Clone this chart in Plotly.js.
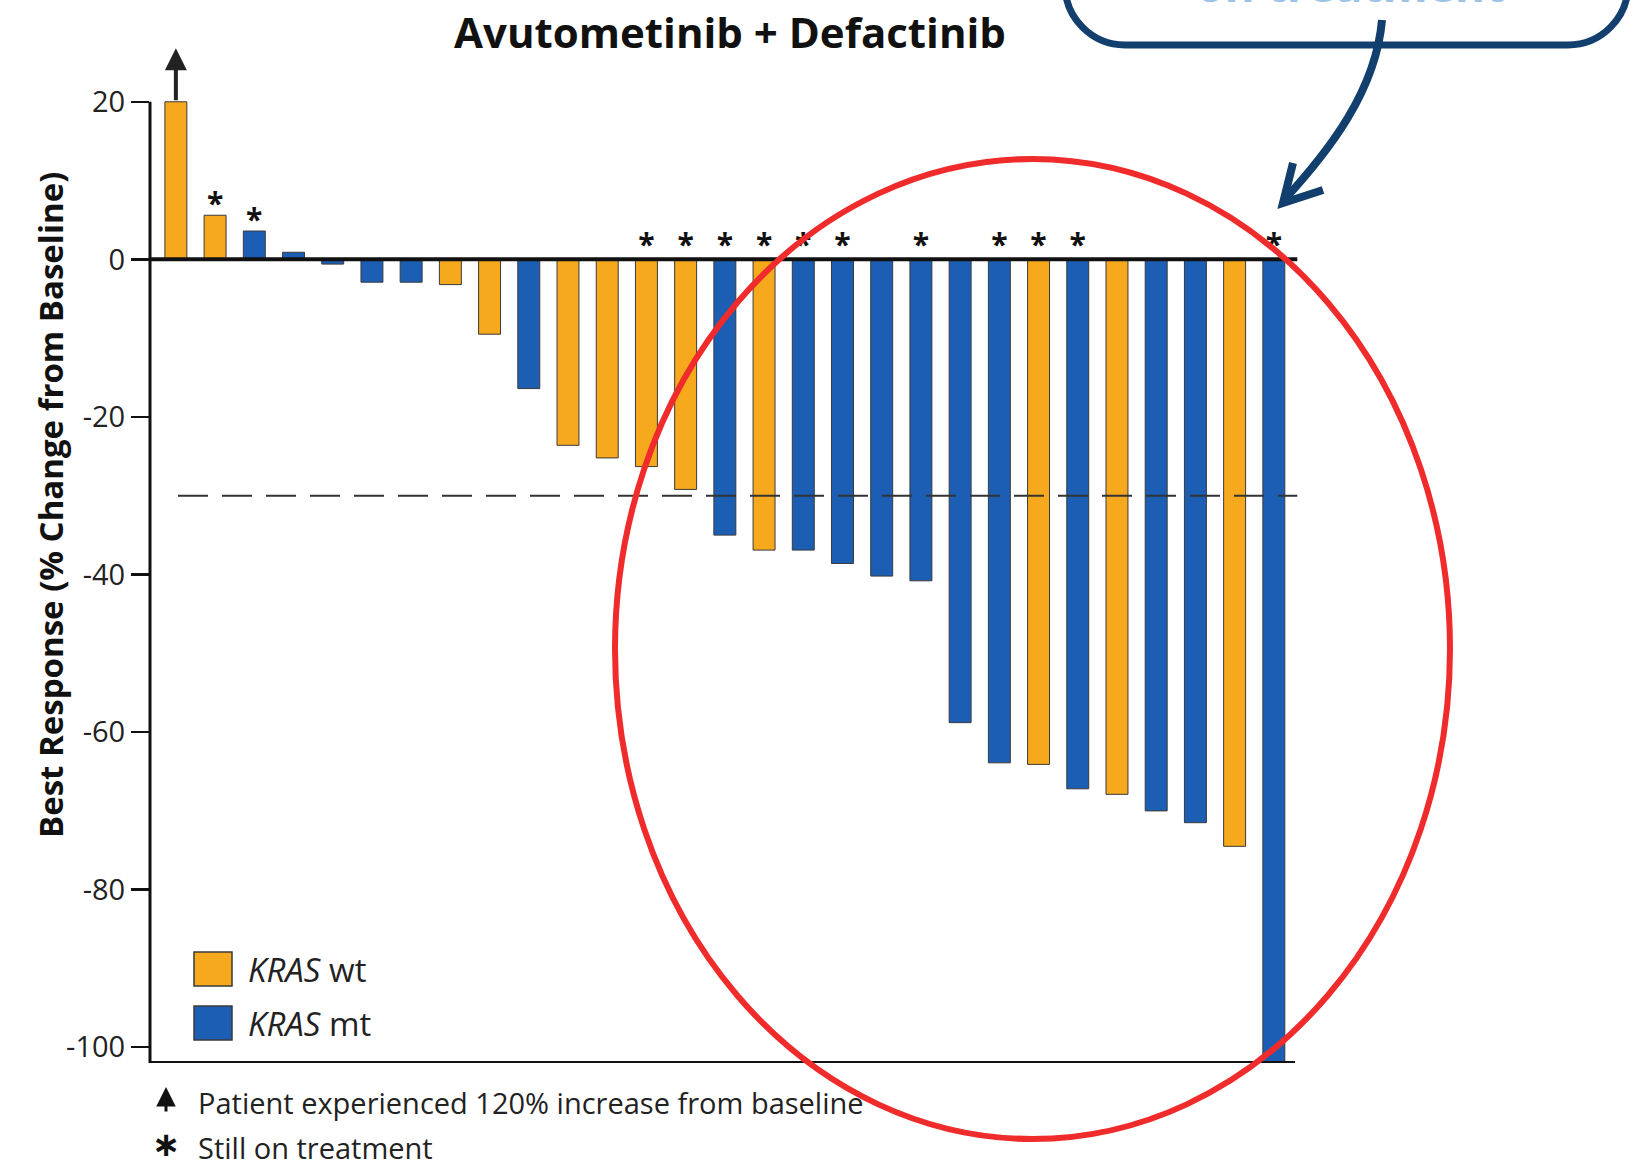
<!DOCTYPE html>
<html>
<head>
<meta charset="utf-8">
<script src="https://cdn.plot.ly/plotly-3.0.1.min.js"></script>
<style>
  html, body { margin: 0; padding: 0; background: #ffffff; }
  #chart { width: 1641px; height: 1167px; }
</style>
</head>
<body>
<div id="chart"></div>
<script>
// ---- data ----
const patients = [1, 2, 3, 4, 5, 6, 7, 8, 9, 10, 11, 12, 13, 14, 15, 16, 17, 18, 19, 20, 21, 22, 23, 24, 25, 26, 27, 28, 29];
const bestResponse = [20, 5.6, 3.6, 0.9, -0.6, -2.9, -2.9, -3.2, -9.5, -16.4, -23.6, -25.2, -26.3, -29.2, -35.0, -36.9, -36.9, -38.6, -40.2, -40.8, -58.8, -63.9, -64.1, -67.2, -67.9, -70.0, -71.5, -74.5, -101.9];
const kras = ["wt", "wt", "mt", "mt", "mt", "mt", "mt", "wt", "wt", "mt", "wt", "wt", "wt", "wt", "mt", "wt", "mt", "mt", "mt", "mt", "mt", "mt", "wt", "mt", "wt", "mt", "mt", "wt", "mt"];
const stillOnTreatment = [false, true, true, false, false, false, false, false, false, false, false, false, true, true, true, true, true, true, false, true, false, true, true, true, false, false, false, false, true];
const truncatedPatient = 1;          // bar capped at axis top (120% increase)
const responseThreshold = -30;
const yTickVals = [20, 0, -20, -40, -60, -80, -100];
const yTickText = ["20", "0", "-20", "-40", "-60", "-80", "-100"];

const colors = { wt: "#F7A91E", mt: "#1C5EB4" };
const FONT = "Open Sans, Noto Sans, Liberation Sans, sans-serif";

// pixel -> paper helpers (plot area: x 150..1295, y 23..1063)
const L = 150, R = 1295, T = 23, B = 1063;
const px = x => (x - L) / (R - L);
const py = y => (B - y) / (B - T);

const xIdx = patients.map((p, i) => i);

function groupTrace(g, name) {
  const xs = [], ys = [];
  xIdx.forEach((x, i) => { if (kras[i] === g) { xs.push(x); ys.push(bestResponse[i]); } });
  return {
    type: "bar", name: name, x: xs, y: ys, width: 0.56,
    marker: { color: colors[g], line: { color: "#3a3a3a", width: 1 } },
    hoverinfo: "y", showlegend: false
  };
}

const starX = [], starY = [];
xIdx.forEach((x, i) => {
  if (stillOnTreatment[i]) {
    starX.push(x);
    starY.push(bestResponse[i] > 0 ? bestResponse[i] - 0.8 : -0.4);
  }
});

const stars = {
  type: "scatter", mode: "text", x: starX, y: starY,
  text: starX.map(() => "<b>*</b>"), textposition: "top center",
  textfont: { family: FONT, size: 30, color: "#111" },
  hoverinfo: "skip", showlegend: false, cliponaxis: false
};

const traces = [groupTrace("wt", "KRAS wt"), groupTrace("mt", "KRAS mt"), stars];

const shapes = [
  // left spine from 20 downwards
  { type: "line", xref: "paper", yref: "y", x0: 0, x1: 0, y0: 20, y1: -102, line: { color: "#111", width: 3 } },
  // zero line
  { type: "line", xref: "paper", yref: "y", x0: 0, x1: 1.002, y0: 0, y1: 0, line: { color: "#111", width: 4 } },
  // bottom line
  { type: "line", xref: "paper", yref: "y", x0: 0, x1: 1, y0: -102, y1: -102, line: { color: "#111", width: 4 } },
  // -30% threshold
  { type: "line", xref: "paper", yref: "y", x0: px(178), x1: 1.002, y0: responseThreshold, y1: responseThreshold,
    line: { color: "#333", width: 2, dash: "30px,14px" } },
  // legend swatches
  { type: "rect", xref: "paper", yref: "paper", x0: px(194), x1: px(232), y0: py(986), y1: py(952),
    fillcolor: colors.wt, line: { color: "#3a3a3a", width: 1.5 } },
  { type: "rect", xref: "paper", yref: "paper", x0: px(194), x1: px(232), y0: py(1040), y1: py(1006),
    fillcolor: colors.mt, line: { color: "#3a3a3a", width: 1.5 } },
  // red ellipse
  { type: "circle", xref: "paper", yref: "paper", x0: px(615), x1: px(1450), y0: py(1139), y1: py(159),
    line: { color: "#F02B2B", width: 6 } },
  // callout box (top cut off)
  { type: "path", xref: "paper", yref: "paper",
    path: `M ${px(1065)},${py(-40)} L ${px(1065)},${py(-15)} C ${px(1065)},${py(18)} ${px(1092)},${py(45)} ${px(1125)},${py(45)} ` +
          `L ${px(1568)},${py(45)} C ${px(1601)},${py(45)} ${px(1628)},${py(18)} ${px(1628)},${py(-15)} L ${px(1628)},${py(-40)}`,
    line: { color: "#123F6D", width: 7 } },
  // callout arrow
  { type: "path", xref: "paper", yref: "paper",
    path: `M ${px(1382)},${py(20)} C ${px(1376)},${py(90)} ${px(1330)},${py(150)} ${px(1284)},${py(200)}`,
    line: { color: "#123F6D", width: 8 } },
  { type: "path", xref: "paper", yref: "paper",
    path: `M ${px(1293)},${py(163)} L ${px(1283)},${py(203)} L ${px(1323)},${py(190)}`,
    line: { color: "#123F6D", width: 8 } }
];

const annotations = [
  // truncated bar arrow
  { x: truncatedPatient - 1, y: 26.8, ax: truncatedPatient - 1, ay: 20, xref: "x", yref: "y", axref: "x", ayref: "y",
    text: "", showarrow: true, arrowhead: 2, arrowsize: 1.1, arrowwidth: 4, arrowcolor: "#222" },
  // y axis title
  { xref: "paper", yref: "paper", x: px(50), y: py(505), text: "<b>Best Response (% Change from Baseline)</b>",
    textangle: -90, showarrow: false, xanchor: "center", yanchor: "middle",
    font: { family: FONT, size: 33, color: "#111" } },
  // legend labels
  { xref: "paper", yref: "paper", x: px(246), y: py(969), xanchor: "left", yanchor: "middle", showarrow: false,
    text: "<i>KRAS</i> wt", font: { family: FONT, size: 33, color: "#222" } },
  { xref: "paper", yref: "paper", x: px(246), y: py(1023), xanchor: "left", yanchor: "middle", showarrow: false,
    text: "<i>KRAS</i> mt", font: { family: FONT, size: 33, color: "#222" } },
  // footnotes
  { xref: "paper", yref: "paper", x: px(166), y: py(1087), ax: 0, ay: 26, text: "", showarrow: true,
    arrowhead: 2, arrowsize: 1.3, arrowwidth: 3, arrowcolor: "#111" },
  { xref: "paper", yref: "paper", x: px(196), y: py(1102), xanchor: "left", yanchor: "middle", showarrow: false,
    text: "Patient experienced 120% increase from baseline", font: { family: FONT, size: 29, color: "#222" } },
  { xref: "paper", yref: "paper", x: px(166), y: py(1144), xanchor: "center", yanchor: "middle", showarrow: false,
    text: "<b>∗</b>", font: { family: "DejaVu Sans, sans-serif", size: 34, color: "#111" } },
  { xref: "paper", yref: "paper", x: px(196), y: py(1147), xanchor: "left", yanchor: "middle", showarrow: false,
    text: "Still on treatment", font: { family: FONT, size: 29, color: "#222" } },
  // callout text (mostly above the page edge, as in the reference)
  { xref: "paper", yref: "paper", x: px(1350), y: py(17), xanchor: "center", yanchor: "bottom", showarrow: false,
    text: "<b>on treatment</b>", font: { family: FONT, size: 46, color: "#9CC2E6" } }
];

const layout = {
  width: 1641, height: 1167,
  margin: { l: L, r: 1641 - R, t: T, b: 1167 - B, pad: 0 },
  paper_bgcolor: "#ffffff", plot_bgcolor: "rgba(0,0,0,0)",
  barmode: "overlay",
  showlegend: false,
  title: { text: "<b>Avutometinib + Defactinib</b>", x: 730 / 1641, xanchor: "center", y: 1 - 33 / 1167, yanchor: "middle",
           font: { family: FONT, size: 42, color: "#111" } },
  xaxis: { range: [-0.66, 28.54], showticklabels: false, ticks: "", showgrid: false, zeroline: false, showline: false, fixedrange: true },
  yaxis: { range: [-102, 30], tickvals: yTickVals, ticktext: yTickText, ticks: "outside", ticklen: 18, tickwidth: 2.5,
           tickcolor: "#111", showgrid: false, zeroline: false, showline: false,
           tickfont: { family: FONT, size: 29, color: "#222" }, fixedrange: true },
  shapes: shapes,
  annotations: annotations,
  font: { family: FONT }
};

Plotly.newPlot("chart", traces, layout, { displayModeBar: false, staticPlot: true });
</script>
</body>
</html>
